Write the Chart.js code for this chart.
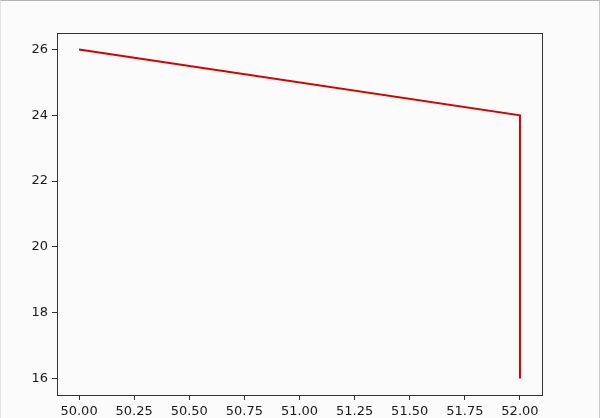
<!DOCTYPE html>
<html>
<head>
<meta charset="utf-8">
<script src="https://cdn.jsdelivr.net/npm/chart.js@4"></script>
<style>
  html, body { margin: 0; padding: 0; background: #fcfbfc; }
  #wrap { position: relative; width: 600px; height: 418px; box-sizing: border-box;
          border-top: 1px solid #b4b4b4; border-left: 1px solid #e4e4e4; border-right: 1px solid #c8c8c8; }
  canvas { display: block; }
</style>
</head>
<body>
<div id="wrap"><canvas id="myChart" width="598" height="417"></canvas></div>
<script>
// data
const xValues = [50, 52, 52];
const yValues = [26, 24, 16];
const xTicks = [50.00, 50.25, 50.50, 50.75, 51.00, 51.25, 51.50, 51.75, 52.00];
const yTicks = [16, 18, 20, 22, 24, 26];

const points = xValues.map((x, i) => ({ x: x, y: yValues[i] }));

// draw the top and right spines like matplotlib
const framePlugin = {
    id: 'frame',
    afterDraw(chart) {
        const a = chart.chartArea;
        const ctx = chart.ctx;
        ctx.save();
        ctx.strokeStyle = '#333333';
        ctx.lineWidth = 1;
        ctx.strokeRect(Math.round(a.left) + 0.5, Math.round(a.top) + 0.5,
                       Math.round(a.right - a.left), Math.round(a.bottom - a.top));
        ctx.restore();
    }
};

Chart.defaults.font.family = 'DejaVu Sans';
Chart.defaults.font.size = 13;
Chart.defaults.color = '#1a1a1a';

const ctx = document.getElementById('myChart').getContext('2d');
new Chart(ctx, {
    type: 'line',
    data: {
        datasets: [{
            data: points,
            borderColor: '#d40000',
            borderWidth: 2,
            pointRadius: 0,
            fill: false,
            tension: 0
        }]
    },
    options: {
        responsive: false,
        animation: false,
        layout: { padding: { left: 0, top: 32, right: 57, bottom: 0 } },
        plugins: { legend: { display: false }, tooltip: { enabled: false } },
        scales: {
            x: {
                type: 'linear',
                min: 49.9,
                max: 52.1,
                afterBuildTicks: s => { s.ticks = xTicks.map(v => ({ value: v })); },
                afterFit: s => { s.height = 23; },
                ticks: { callback: v => v.toFixed(2), padding: 4, maxRotation: 0, autoSkip: false },
                grid: { drawOnChartArea: false, tickLength: 5, tickColor: '#333333' },
                border: { color: '#333333' }
            },
            y: {
                min: 15.5,
                max: 26.5,
                afterBuildTicks: s => { s.ticks = yTicks.map(v => ({ value: v })); },
                afterFit: s => { s.width = 56; },
                ticks: { padding: 4 },
                grid: { drawOnChartArea: false, tickLength: 5, tickColor: '#333333' },
                border: { color: '#333333' }
            }
        }
    },
    plugins: [framePlugin]
});
</script>
</body>
</html>
